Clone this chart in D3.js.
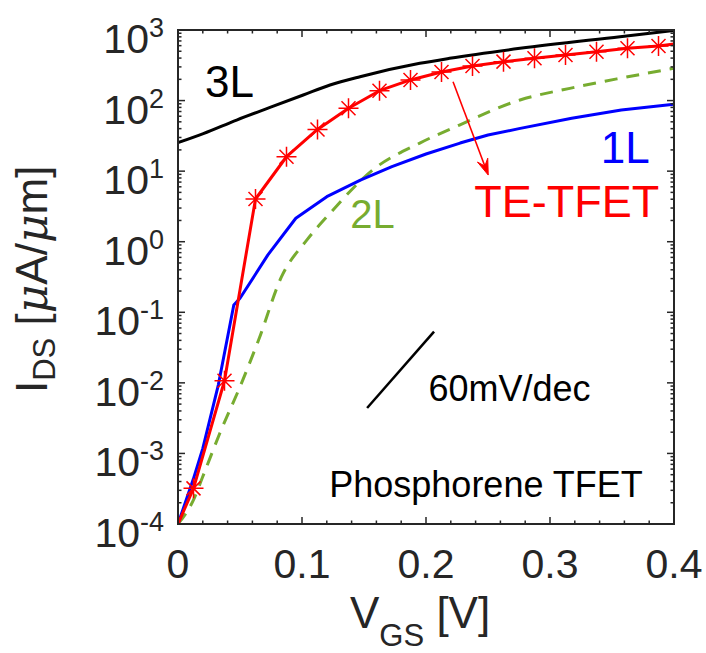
<!DOCTYPE html>
<html>
<head>
<meta charset="utf-8">
<script src="https://cdn.jsdelivr.net/npm/d3@7"></script>
<style>
  html, body { margin: 0; padding: 0; background: #fff; }
  svg { display: block; font-family: "Liberation Sans", Arial, Helvetica, sans-serif; }
</style>
</head>
<body>
<svg id="chart" width="706" height="653"></svg>
<script>
// Gate voltage sweep (V) and drain current (uA/um) for each device
const vgs3L = [0, 0.0204, 0.0473, 0.0742, 0.101, 0.1226, 0.1468, 0.195, 0.219, 0.2758, 0.3565, 0.4];
const ids3L = [25.3, 34, 53, 80, 120, 166, 218, 337, 397, 550, 804, 985];

const vgs1L = [0, 0.0125, 0.02, 0.0325, 0.045, 0.05, 0.0725, 0.095, 0.12, 0.1475, 0.1725, 0.2, 0.2275, 0.25, 0.275, 0.3175, 0.3575, 0.4];
const ids1L = [1e-4, 4.4e-4, 1.18e-3, 9.3e-3, 0.127, 0.158, 0.65, 2.15, 4.35, 7.5, 11.6, 17.5, 25, 32.5, 40, 56, 73.5, 89];

const vgs2L = [0, 0.0125, 0.02, 0.0338, 0.05, 0.065, 0.0835, 0.104, 0.1226, 0.157, 0.195, 0.227, 0.2758, 0.316, 0.3565, 0.4];
const ids2L = [1e-4, 2.2e-4, 4.7e-4, 1.95e-3, 8.8e-3, 0.0405, 0.319, 1.06, 2.53, 10.4, 25, 45, 102, 149, 207, 287];

const vgsTE = [0, 0.0125, 0.0375, 0.0625, 0.0875, 0.1125, 0.1375, 0.1625, 0.1875, 0.2125, 0.2375, 0.2625, 0.2875, 0.3125, 0.3375, 0.3625, 0.3875, 0.4];
const idsTE = [1e-4, 3.2e-4, 0.0107, 4.03, 16, 39, 78, 138, 196, 254, 309, 356, 397, 442, 493, 551, 593, 634];
// asterisk markers sit on every sample except the two end points
const markerIdx = d3.range(1, vgsTE.length - 1);

const xTicks = [0, 0.1, 0.2, 0.3, 0.4];
const xTickLabels = ["0", "0.1", "0.2", "0.3", "0.4"];
const yTickExps = [-4, -3, -2, -1, 0, 1, 2, 3];

const svg = d3.select("#chart");
const axisColor = "#262626";
const L = 178, R = 674, T = 30, B = 524;

const x = d3.scaleLinear().domain([0, 0.4]).range([L, R]);
const y = d3.scaleLog().domain([1e-4, 1e3]).range([B, T]);

svg.append("defs").append("clipPath").attr("id", "plotClip")
  .append("rect").attr("x", L).attr("y", T).attr("width", R - L).attr("height", B - T);

const plot = svg.append("g").attr("clip-path", "url(#plotClip)");
const line = d3.line().x(d => x(d[0])).y(d => y(d[1]));
const smooth = d3.line().x(d => x(d[0])).y(d => y(d[1])).curve(d3.curveMonotoneX);
const pairs = (xs, ys) => xs.map((v, i) => [v, ys[i]]);

// 2L (dashed green)
plot.append("path").datum(pairs(vgs2L, ids2L))
  .attr("d", smooth).attr("fill", "none").attr("stroke", "#77AC30")
  .attr("stroke-width", 3).attr("stroke-dasharray", "13,9");
// 1L (blue)
plot.append("path").datum(pairs(vgs1L, ids1L))
  .attr("d", line).attr("fill", "none").attr("stroke", "#0000FF").attr("stroke-width", 3)
  .attr("stroke-linejoin", "round");
// 3L (black)
plot.append("path").datum(pairs(vgs3L, ids3L))
  .attr("d", smooth).attr("fill", "none").attr("stroke", "#000").attr("stroke-width", 3);
// TE-TFET (red with asterisks)
plot.append("path").datum(pairs(vgsTE, idsTE))
  .attr("d", line).attr("fill", "none").attr("stroke", "#FF0000").attr("stroke-width", 3)
  .attr("stroke-linejoin", "round");

const r = 10, rd = 7;
const star = `M${-r},0H${r}M0,${-r}V${r}M${-rd},${-rd}L${rd},${rd}M${-rd},${rd}L${rd},${-rd}`;
plot.selectAll("path.mk").data(markerIdx).enter().append("path")
  .attr("class", "mk")
  .attr("transform", i => `translate(${x(vgsTE[i])},${y(idsTE[i])})`)
  .attr("d", star).attr("fill", "none").attr("stroke", "#FF0000").attr("stroke-width", 1.5);

// 60 mV/dec reference slope
svg.append("line")
  .attr("x1", x(0.1525)).attr("y1", y(Math.pow(10, -2.356)))
  .attr("x2", x(0.2065)).attr("y2", y(Math.pow(10, -1.275)))
  .attr("stroke", "#000").attr("stroke-width", 2.5);

// Arrow pointing from the TE-TFET curve to its label
const ax1 = x(0.2218), ay1 = y(185), ax2 = x(0.2502), ay2 = y(8.8);
const ang = Math.atan2(ay2 - ay1, ax2 - ax1);
const hl = 16, hw = 5.5;
svg.append("line").attr("x1", ax1).attr("y1", ay1)
  .attr("x2", ax2 - Math.cos(ang) * 6).attr("y2", ay2 - Math.sin(ang) * 6)
  .attr("stroke", "#FF0000").attr("stroke-width", 1.6);
const bx = ax2 - Math.cos(ang) * hl, by = ay2 - Math.sin(ang) * hl;
const px = -Math.sin(ang) * hw, py = Math.cos(ang) * hw;
const mx = ax2 - Math.cos(ang) * hl * 0.6, my = ay2 - Math.sin(ang) * hl * 0.6;
svg.append("path")
  .attr("d", `M${ax2},${ay2}L${bx + px},${by + py}L${mx},${my}L${bx - px},${by - py}Z`)
  .attr("fill", "#FF0000").attr("stroke", "#FF0000").attr("stroke-width", 1);

// Curve labels
const ann = [
  { t: "3L", v: 0.0218, i: 112, c: "#000", s: 44 },
  { t: "1L", v: 0.3410, i: 12.9, c: "#0000FF", s: 44 },
  { t: "2L", v: 0.1390, i: 1.55, c: "#77AC30", s: 40 },
  { t: "TE-TFET", v: 0.2390, i: 2.26, c: "#FF0000", s: 45 },
  { t: "60mV/dec", v: 0.2020, i: Math.pow(10, -2.253), c: "#000", s: 36 },
  { t: "Phosphorene TFET", v: 0.1220, i: Math.pow(10, -3.618), c: "#000", s: 36 }
];
svg.selectAll("text.ann").data(ann).enter().append("text")
  .attr("class", "ann")
  .attr("x", d => x(d.v)).attr("y", d => y(d.i))
  .attr("fill", d => d.c).attr("font-size", d => d.s)
  .text(d => d.t);

// Axes box with inward ticks
const gAx = svg.append("g").attr("stroke", axisColor).attr("stroke-width", 1.5);
gAx.append("rect").attr("x", L).attr("y", T).attr("width", R - L).attr("height", B - T)
  .attr("fill", "none").attr("stroke-width", 2);

const xMinor = d3.range(0, 0.4001, 0.02).filter(v => Math.abs(v * 10 - Math.round(v * 10)) > 1e-6);
const major = 7, minor = 3.5;
xTicks.forEach(v => {
  gAx.append("line").attr("x1", x(v)).attr("x2", x(v)).attr("y1", B).attr("y2", B - major);
  gAx.append("line").attr("x1", x(v)).attr("x2", x(v)).attr("y1", T).attr("y2", T + major);
});
xMinor.forEach(v => {
  gAx.append("line").attr("x1", x(v)).attr("x2", x(v)).attr("y1", B).attr("y2", B - minor);
  gAx.append("line").attr("x1", x(v)).attr("x2", x(v)).attr("y1", T).attr("y2", T + minor);
});
yTickExps.forEach(e => {
  const yy = y(Math.pow(10, e));
  gAx.append("line").attr("x1", L).attr("x2", L + major).attr("y1", yy).attr("y2", yy);
  gAx.append("line").attr("x1", R).attr("x2", R - major).attr("y1", yy).attr("y2", yy);
  if (e < 3) {
    for (let m = 2; m <= 9; m++) {
      const ym = y(m * Math.pow(10, e));
      gAx.append("line").attr("x1", L).attr("x2", L + minor).attr("y1", ym).attr("y2", ym);
      gAx.append("line").attr("x1", R).attr("x2", R - minor).attr("y1", ym).attr("y2", ym);
    }
  }
});

// Tick labels
svg.selectAll("text.xt").data(xTicks).enter().append("text")
  .attr("class", "xt").attr("x", d => x(d)).attr("y", 578)
  .attr("text-anchor", "middle").attr("font-size", 41).attr("fill", axisColor)
  .text((d, i) => xTickLabels[i]);

const yt = svg.selectAll("text.yt").data(yTickExps).enter().append("text")
  .attr("class", "yt").attr("x", 164).attr("y", d => y(Math.pow(10, d)) + 23)
  .attr("text-anchor", "end").attr("font-size", 41).attr("fill", axisColor);
yt.append("tspan").text("10");
yt.append("tspan").attr("dy", -16).attr("font-size", 27).text(d => String(d));

// Axis titles
const xt = svg.append("text").attr("x", 350).attr("y", 628)
  .attr("font-size", 44).attr("fill", axisColor);
xt.append("tspan").text("V");
xt.append("tspan").attr("dy", 18).attr("font-size", 31).text("GS");
xt.append("tspan").attr("dy", -18).text(" [V]");

const ytl = svg.append("text")
  .attr("transform", "translate(47,393) rotate(-90)")
  .attr("font-size", 44).attr("fill", axisColor);
ytl.append("tspan").text("I");
ytl.append("tspan").attr("dy", 8).attr("font-size", 31).text("DS");
ytl.append("tspan").attr("dy", -8).text(" [");
ytl.append("tspan").attr("font-style", "italic").attr("font-family", "'DejaVu Serif', serif").text("μ");
ytl.append("tspan").text("A/");
ytl.append("tspan").attr("font-style", "italic").attr("font-family", "'DejaVu Serif', serif").text("μ");
ytl.append("tspan").text("m]");
</script>
</body>
</html>
